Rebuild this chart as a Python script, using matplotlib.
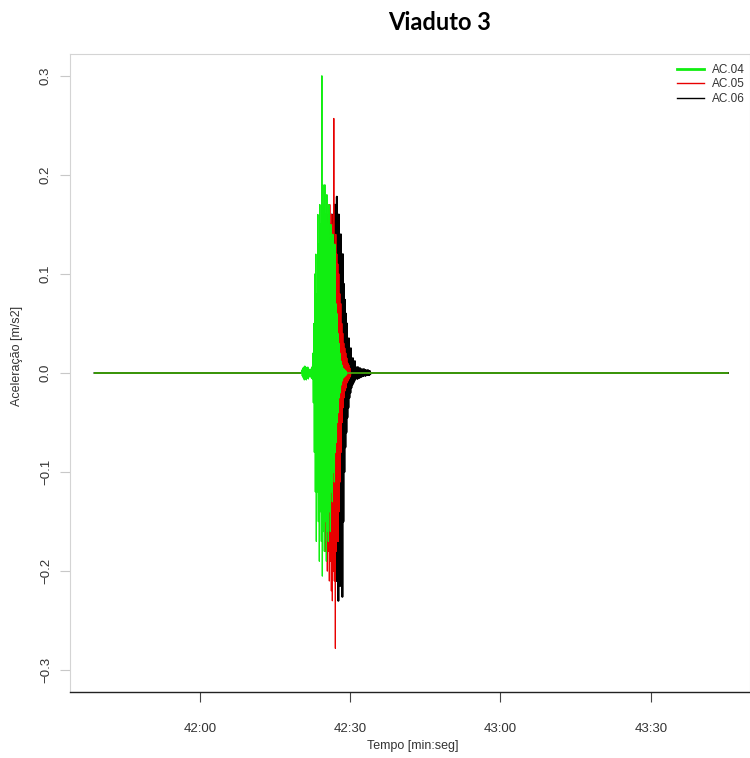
import matplotlib
matplotlib.use("Agg")
import matplotlib.pyplot as plt
from matplotlib.ticker import FuncFormatter

plt.rcParams['font.family'] = ['Liberation Sans', 'DejaVu Sans']
plt.rcParams['axes.unicode_minus'] = True

# time in seconds (42:00 = 2520 s), acceleration in m/s2
rec_start = 2499.0
rec_end = 2625.4
dt = 0.1

# AC.04 (green) - burst starts 42:20.4, one peak/trough pair every 0.2 s
ac04_start = 2540.36
ac04_peaks = [0.003, 0.005, 0.006, 0.007, 0.006, 0.005, 0.006, 0.004, 0.003, 0.004, 0.006,
              0.02, 0.05, 0.10, 0.12, 0.08, 0.16, 0.13, 0.17, 0.15, 0.30,
              0.19, 0.17, 0.19, 0.16, 0.18, 0.15, 0.17, 0.13, 0.15, 0.12,
              0.14, 0.10, 0.13, 0.07, 0.06, 0.04, 0.03, 0.02, 0.012, 0.008,
              0.005, 0.004, 0.003, 0.002]
ac04_troughs = [-0.003, -0.005, -0.007, -0.006, -0.007, -0.005, -0.006, -0.004, -0.003, -0.005, -0.006,
                -0.03, -0.08, -0.12, -0.17, -0.12, -0.15, -0.19, -0.14, -0.17, -0.205,
                -0.16, -0.18, -0.15, -0.19, -0.16, -0.17, -0.14, -0.16, -0.12, -0.13,
                -0.10, -0.11, -0.08, -0.07, -0.05, -0.04, -0.025, -0.02, -0.012, -0.008,
                -0.005, -0.004, -0.003, -0.002]

# AC.05 (red)
ac05_start = 2543.55
ac05_peaks = [0.04, 0.06, 0.08, 0.10, 0.11, 0.12, 0.14, 0.13, 0.15, 0.14, 0.16,
              0.15, 0.17, 0.14, 0.16, 0.15, 0.257, 0.13, 0.14, 0.12, 0.11, 0.10,
              0.08, 0.07, 0.05, 0.04, 0.03, 0.025, 0.02, 0.015, 0.01, 0.008, 0.005]
ac05_troughs = [-0.05, -0.07, -0.09, -0.11, -0.13, -0.15, -0.16, -0.18, -0.17, -0.20, -0.18,
                -0.21, -0.19, -0.22, -0.23, -0.20, -0.21, -0.278, -0.18, -0.17, -0.17, -0.14,
                -0.11, -0.08, -0.05, -0.035, -0.025, -0.018, -0.015, -0.01, -0.008, -0.006, -0.004]

# AC.06 (black)
ac06_start = 2544.35
ac06_peaks = [0.04, 0.06, 0.08, 0.09, 0.11, 0.12, 0.13, 0.14, 0.15, 0.14, 0.16,
              0.15, 0.16, 0.17, 0.15, 0.178, 0.14, 0.16, 0.13, 0.14, 0.11, 0.12,
              0.09, 0.074, 0.06, 0.05, 0.03, 0.035, 0.02, 0.025, 0.012, 0.015,
              0.01, 0.012, 0.006, 0.005, 0.006, 0.004, 0.005, 0.003, 0.004, 0.003,
              0.004, 0.003, 0.003, 0.002, 0.003, 0.002, 0.002]
ac06_troughs = [-0.05, -0.07, -0.09, -0.11, -0.13, -0.14, -0.16, -0.15, -0.17, -0.18, -0.17,
                -0.19, -0.20, -0.19, -0.21, -0.19, -0.23, -0.20, -0.215, -0.18, -0.226, -0.15,
                -0.10, -0.075, -0.06, -0.045, -0.035, -0.025, -0.02, -0.015, -0.012, -0.01,
                -0.008, -0.006, -0.005, -0.006, -0.004, -0.005, -0.003, -0.004, -0.003, -0.003,
                -0.002, -0.003, -0.002, -0.002, -0.002, -0.002, -0.001]

x_ticks = [2520, 2550, 2580, 2610]
y_ticks = [-0.3, -0.2, -0.1, 0.0, 0.1, 0.2, 0.3]


def build_series(start, peaks, troughs):
    vals = []
    for p, q in zip(peaks, troughs):
        vals += [p, q]
    t_burst = [start + i * dt for i in range(len(vals))]
    # quiet record before and after the burst
    t = [rec_start, start - dt] + t_burst + [t_burst[-1] + dt, rec_end]
    y = [0.0, 0.0] + vals + [0.0, 0.0]
    return t, y


def mmss(x, pos):
    return "%d:%02d" % (int(x) // 60, int(round(x)) % 60)


fig = plt.figure(figsize=(7.5, 7.58), dpi=100, facecolor='w')
ax = fig.add_axes([70 / 750, (758 - 692) / 758, 680 / 750, 638 / 758])

green = '#11ee11'
red = '#e80000'

t6, y6 = build_series(ac06_start, ac06_peaks, ac06_troughs)
t5, y5 = build_series(ac05_start, ac05_peaks, ac05_troughs)
t4, y4 = build_series(ac04_start, ac04_peaks, ac04_troughs)
ax.plot(t6, y6, color='black', linewidth=1.4)
ax.plot(t5, y5, color=red, linewidth=0.8)
ax.plot(t4, y4, color=green, linewidth=0.9)

ax.set_xlim(2494.1, 2629.8)
ax.set_ylim(-0.322, 0.322)
ax.set_xticks(x_ticks)
ax.xaxis.set_major_formatter(FuncFormatter(mmss))
ax.set_yticks(y_ticks)
ax.set_yticklabels([("%.1f" % v).replace('-', '\u2212') for v in y_ticks],
                   rotation=90, va='center')

for side in ['left', 'top', 'right']:
    ax.spines[side].set_color('#d4d4d4')
    ax.spines[side].set_linewidth(0.8)
ax.spines['bottom'].set_color('#222222')
ax.spines['bottom'].set_linewidth(1.0)
ax.tick_params(axis='y', length=7, width=0.8, color='#c8c8c8', labelsize=9.5,
               labelcolor='#333333', pad=6)
ax.tick_params(axis='x', length=7, width=0.8, color='#444444', labelsize=9.5,
               labelcolor='#333333', pad=15)

fig.text(17 / 750, 1 - 356 / 758, "Aceleração [m/s2]", rotation=90, ha='center',
         va='center', fontsize=9, color='#333333')
fig.text(413 / 750, 1 - 746 / 758, "Tempo [min:seg]", ha='center', va='center',
         fontsize=9, color='#333333')
fig.text(440 / 750, 1 - 22 / 758, "Viaduto 3", ha='center', va='center',
         fontsize=17, fontweight='bold', family=['Lato', 'DejaVu Sans'])

leg = ax.legend([plt.Line2D([], [], color=green, linewidth=2),
                 plt.Line2D([], [], color=red, linewidth=1),
                 plt.Line2D([], [], color='black', linewidth=1)],
                ['AC.04', 'AC.05', 'AC.06'], loc='upper left', frameon=False,
                fontsize=8.5, handlelength=2.3, handletextpad=0.7, labelspacing=0.2,
                borderpad=0, borderaxespad=0,
                bbox_to_anchor=((677 - 70) / 680, (692 - 64) / 638))
for txt in leg.get_texts():
    txt.set_color('#333333')

fig.savefig("out.png", dpi=100)
